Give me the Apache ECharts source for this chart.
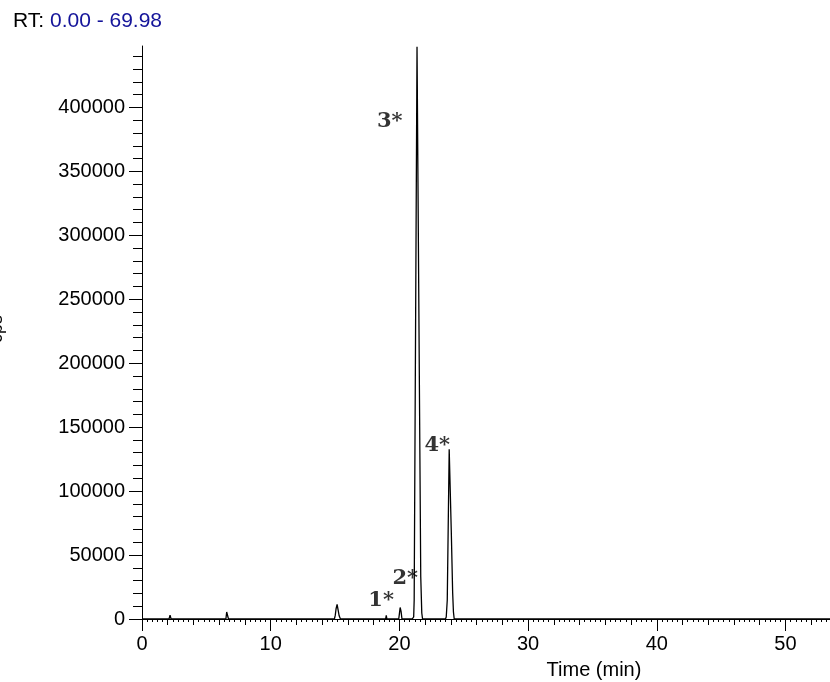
<!DOCTYPE html>
<html>
<head>
<meta charset="utf-8">
<script src="https://cdn.jsdelivr.net/npm/echarts@6/dist/echarts.min.js"></script>
<style>
html,body{margin:0;padding:0;background:#fff;}
#c{width:830px;height:682px;}
</style>
</head>
<body>
<div id="c"></div>
<script>
// ---- data (time in min, intensity in counts) ----
var times = [0, 2.1, 2.18, 2.26, 6.52, 6.58, 6.64, 6.72,
  14.95, 15.02, 15.08, 15.16, 15.24, 15.32, 15.42,
  18.93, 18.98, 19.03, 19.95, 20.0, 20.06, 20.13, 20.2,
  21.0, 21.11, 21.15, 21.37, 21.66, 21.74, 21.8,
  23.58, 23.64, 23.72, 23.79, 23.87, 23.99, 24.03, 24.14, 24.2, 24.26, 69.98];
var intensities = [0, 0, 3000, 0, 0, 5500, 4000, 0,
  0, 3000, 8000, 11500, 7000, 2500, 0,
  0, 2800, 0, 0, 4000, 9000, 6000, 0,
  0, 1600, 15000, 447500, 33000, 4700, 0,
  0, 1600, 14800, 69500, 132800, 132800, 69500, 20300, 5500, 0, 0];

var peakLabels = ['1*', '2*', '3*', '4*'];
var peakLabelTimes = [18.58, 20.45, 19.25, 22.94];
var peakLabelValues = [14800, 32000, 389000, 136000];

var xTickLabels = [0, 10, 20, 30, 40, 50];
var yTickLabels = [0, 50000, 100000, 150000, 200000, 250000, 300000, 350000, 400000];

var xMax = 53.46, yMax = 448000;

// tick positions for the medium (2 min), small (0.4 min) and y minor (10000) ticks
var xMid = [], xSmall = [], yMinor = [];
for (var i = 1; i * 2 < xMax; i++) { if ((i * 2) % 10 !== 0) xMid.push(i * 2); }
for (var j = 1; j * 0.4 < xMax; j++) { if (j % 5 !== 0) xSmall.push(Math.round(j * 4) / 10); }
for (var k = 1; k * 10000 < yMax; k++) { if (k % 5 !== 0) yMinor.push(k * 10000); }

var seriesData = times.map(function (t, idx) { return [t, intensities[idx]]; });
var labelData = peakLabels.map(function (n, idx) { return { name: n, value: [peakLabelTimes[idx], peakLabelValues[idx]] }; });

var FONT = '"Liberation Sans", Arial, sans-serif';
var chart = echarts.init(document.getElementById('c'), null, { renderer: 'canvas' });

function plain(v) { return String(v); }

function xAx(ticks, len, showLine, showLabel) {
  return {
    type: 'value', min: 0, max: xMax, position: 'bottom', gridIndex: 0,
    axisLine: { show: showLine, onZero: false, lineStyle: { color: '#000', width: 1 } },
    axisTick: { show: true, customValues: ticks, length: len, lineStyle: { color: '#000', width: 1 } },
    axisLabel: showLabel ? { show: true, customValues: ticks, formatter: plain, color: '#000', fontFamily: FONT, fontSize: 20, margin: 15 } : { show: false },
    splitLine: { show: false }
  };
}
function yAx(ticks, len, showLine, showLabel) {
  return {
    type: 'value', min: 0, max: yMax, position: 'left', gridIndex: 0,
    axisLine: { show: showLine, onZero: false, lineStyle: { color: '#000', width: 1 } },
    axisTick: { show: true, customValues: ticks, length: len, lineStyle: { color: '#000', width: 1 } },
    axisLabel: showLabel ? { show: true, customValues: ticks, formatter: plain, color: '#000', fontFamily: FONT, fontSize: 20, margin: 17 } : { show: false },
    splitLine: { show: false }
  };
}

chart.setOption({
  animation: false,
  backgroundColor: '#fff',
  grid: { left: 142, top: 46, right: 0, bottom: 63, containLabel: false },
  xAxis: [xAx(xTickLabels, 12, true, true), xAx(xMid, 6, false, false), xAx(xSmall, 3, false, false)],
  yAxis: [yAx(yTickLabels, 13, true, true), yAx(yMinor, 9, false, false)],
  series: [
    {
      type: 'line', xAxisIndex: 0, yAxisIndex: 0, data: seriesData,
      showSymbol: false, symbol: 'none', clip: true,
      lineStyle: { color: '#000', width: 1.3 }, z: 3
    },
    {
      type: 'scatter', xAxisIndex: 0, yAxisIndex: 0, data: labelData,
      symbolSize: 1, itemStyle: { color: 'rgba(0,0,0,0)' }, silent: true,
      label: { show: true, position: 'inside', formatter: '{b}', color: '#000', textBorderWidth: 0,
        fontFamily: '"DejaVu Serif", "Liberation Serif", serif', fontWeight: 'bold', fontSize: 21 }
    }
  ],
  graphic: [
    {
      type: 'text', left: 13, top: 11,
      style: {
        text: '{a|RT: }{b|0.00 - 69.98}',
        rich: {
          a: { fontFamily: FONT, fontSize: 21, fill: '#000' },
          b: { fontFamily: FONT, fontSize: 21, fill: '#14149a' }
        }
      }
    },
    {
      type: 'text', x: -3, y: 329, rotation: Math.PI / 2,
      style: { text: 'cps', fontFamily: FONT, fontSize: 18, fill: '#000', align: 'center', verticalAlign: 'middle' }
    },
    {
      type: 'text', x: 594, y: 670,
      style: { text: 'Time (min)', fontFamily: FONT, fontSize: 20, fill: '#000', align: 'center', verticalAlign: 'middle' }
    }
  ]
});
</script>
</body>
</html>
